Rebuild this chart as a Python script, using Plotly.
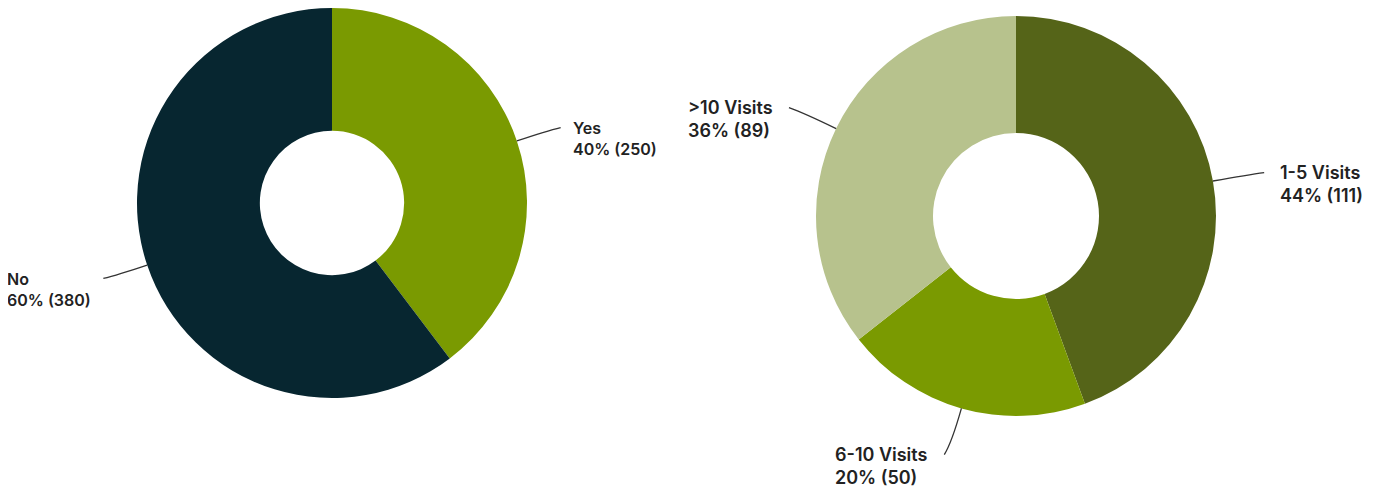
import numpy as np
import plotly.graph_objects as go

# ── Data ──────────────────────────────────────────────────────────────────
left_labels = ["Yes", "No"]
left_values = [250, 380]
left_colors = ["#7a9a01", "#072630"]

right_labels = ["1-5 Visits", "6-10 Visits", ">10 Visits"]
right_values = [111, 50, 89]
right_colors = ["#556418", "#7a9a01", "#b7c28d"]

# ── Layout config (pixels) ────────────────────────────────────────────────
W, H = 1377, 493
OFF = 8            # page body margin around the plot div
TEXT = "#222222"
LINE = "#333333"


def px(x):
    return (x - OFF) / W


def py(y):
    return 1 - (y - OFF) / H


def donut(fig, labels, values, colors, cx, cy, r, hole, fsize, weight, lead, gap):
    fig.add_trace(go.Pie(
        labels=labels, values=values, sort=False, direction="clockwise",
        rotation=0, hole=hole, textinfo="none", hoverinfo="label+value+percent",
        marker=dict(colors=colors, line=dict(width=0)),
        domain=dict(x=[px(cx - r), px(cx + r)], y=[py(cy + r), py(cy - r)]),
        showlegend=False,
    ))
    total = sum(values)
    start = 0.0
    for lab, v in zip(labels, values):
        frac = v / total
        mid = np.deg2rad(360 * (start + frac / 2))
        start += frac
        dx, dy = np.sin(mid), -np.cos(mid)
        side = 1 if dx >= 0 else -1
        x0, y0 = cx + r * dx, cy + r * dy
        xc, yc = cx + (r + 0.75 * lead) * dx, cy + (r + 0.75 * lead) * dy
        x1, y1 = cx + (r + lead) * dx + side * 4, cy + (r + lead) * dy
        fig.add_shape(
            type="path", xref="paper", yref="paper",
            path=f"M {px(x0)},{py(y0)} Q {px(xc)},{py(yc)} {px(x1)},{py(y1)}",
            line=dict(color=LINE, width=1.3),
        )
        pct = round(100 * frac)
        lh = 1.3 * fsize
        fig.add_annotation(
            x=px(x1 + side * gap), y=py(y1 - lh / 2 - 1),
            xref="paper", yref="paper",
            xanchor="left" if side > 0 else "right", yanchor="top",
            align="left", showarrow=False,
            text=f"{lab}<br>{pct}% ({v})",
            font=dict(family="Inter, Roboto, sans-serif", size=fsize,
                      color=TEXT, weight=weight),
        )


fig = go.Figure()
donut(fig, left_labels, left_values, left_colors,
      cx=332, cy=203, r=195, hole=0.37, fsize=16, weight=600, lead=42, gap=10)
donut(fig, right_labels, right_values, right_colors,
      cx=1016, cy=216, r=200, hole=0.415, fsize=18, weight=600, lead=48, gap=14)

fig.update_layout(
    width=W, height=H,
    margin=dict(l=0, r=0, t=0, b=0),
    paper_bgcolor="white", plot_bgcolor="white",
)

fig.write_html("out.html")
